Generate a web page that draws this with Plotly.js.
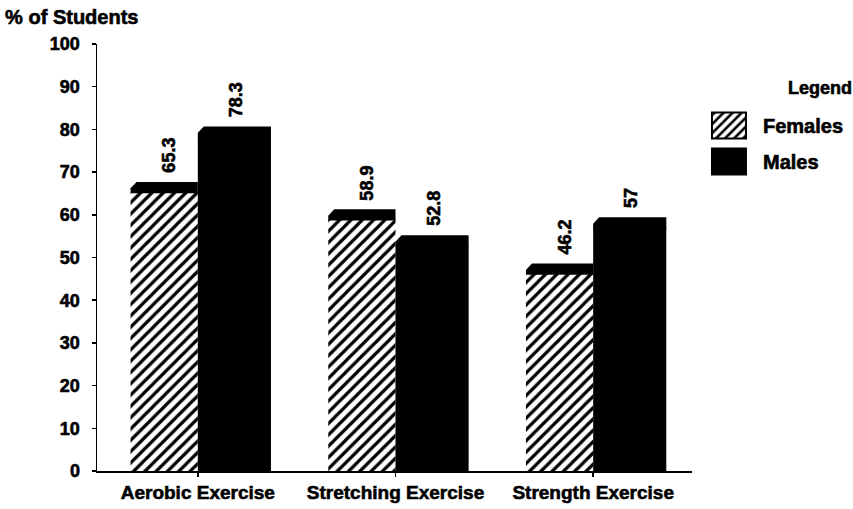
<!DOCTYPE html>
<html>
<head>
<meta charset="utf-8">
<script src="https://cdn.plot.ly/plotly-3.0.1.min.js"></script>
<style>
  body { margin: 0; background: #fff; }
  #chart { width: 853px; height: 509px; }
  /* heavy, slightly spread lettering */
  #chart svg text { stroke: #000; stroke-width: 0.6px; }
</style>
</head>
<body>
<div id="chart"></div>
<script>
// Share of students doing each type of exercise, by sex
const categories = ['Aerobic Exercise', 'Stretching Exercise', 'Strength Exercise'];
const females = [65.3, 58.9, 46.2];
const males = [78.3, 52.8, 57];
const yTicks = [0, 10, 20, 30, 40, 50, 60, 70, 80, 90, 100];
const seriesNames = ['Females', 'Males'];

const FONT = 'Liberation Sans, Arial, Helvetica, sans-serif';
const femaleW = 0.34;   // bar widths in category units
const maleW = 0.37;
const capH = 2.4;       // height of the raised top edge, in % units
const capOverlap = 0.25;
const bevelX = 0.03;
const bevelY = 1.5;

const traces = [
  {
    type: 'bar', name: seriesNames[0], legendgroup: 'f',
    x: categories, y: females, offset: -femaleW, width: femaleW,
    marker: {
      color: 'white',
      line: { width: 0 },
      pattern: { shape: '/', fgcolor: 'black', bgcolor: 'white', size: 8, solidity: 0.4 }
    },
    hoverinfo: 'x+y'
  },
  {
    type: 'bar', name: seriesNames[1], legendgroup: 'm',
    x: categories, y: males, offset: 0, width: maleW,
    marker: { color: 'black', line: { width: 0 } },
    hoverinfo: 'x+y'
  }
];

// Raised top edge drawn on each bar, with a bevelled left corner
function capPath(x0, x1, v) {
  const y0 = v - capOverlap, y1 = v + capH;
  return 'M' + x0 + ',' + y0 + ' L' + x0 + ',' + (y1 - bevelY) +
         ' L' + (x0 + bevelX) + ',' + y1 + ' L' + x1 + ',' + y1 +
         ' L' + x1 + ',' + y0 + ' Z';
}

const labelFont = { family: FONT, size: 18, weight: 'bold', color: 'black' };

const shapes = [];
const annotations = [];
categories.forEach((c, i) => {
  [[females[i], i - femaleW, i, 5], [males[i], i, i + maleW, 2]].forEach(([v, x0, x1, xs]) => {
    shapes.push({
      type: 'path', xref: 'x', yref: 'y', path: capPath(x0, x1, v),
      fillcolor: 'black', line: { width: 0 }, layer: 'above'
    });
    annotations.push({
      xref: 'x', yref: 'y', x: (x0 + x1) / 2, y: v + capH,
      text: String(v), textangle: -90, showarrow: false,
      xanchor: 'center', yanchor: 'bottom', yshift: 7, xshift: xs,
      font: labelFont
    });
  });
});

annotations.push({
  xref: 'paper', yref: 'paper', x: 1.215, y: 0.897,
  text: 'Legend', showarrow: false, xanchor: 'center', yanchor: 'middle',
  font: labelFont
});

const layout = {
  width: 853, height: 509,
  margin: { l: 97, r: 161, t: 44, b: 38, autoexpand: false },
  paper_bgcolor: 'white', plot_bgcolor: 'white',
  font: labelFont,
  title: {
    text: '% of Students', xref: 'container', yref: 'container',
    x: 0.006, xanchor: 'left', y: 0.966, yanchor: 'middle',
    font: { family: FONT, size: 20, weight: 'bold', color: 'black' }
  },
  barmode: 'overlay',
  xaxis: {
    type: 'category', range: [-0.51, 2.5],
    showline: true, linecolor: 'black', linewidth: 1.5,
    ticks: 'outside', ticklen: 4, tickwidth: 1.5, tickcolor: 'black',
    tickfont: { family: FONT, size: 19, weight: 'bold', color: 'black' },
    showgrid: false, zeroline: false, fixedrange: true
  },
  yaxis: {
    range: [0, 100], tickmode: 'array', tickvals: yTicks, ticktext: yTicks.map(String),
    showline: true, linecolor: 'black', linewidth: 1.5,
    ticks: 'outside', ticklen: 4, tickwidth: 1.5, tickcolor: 'black',
    ticklabelstandoff: 8,
    tickfont: { family: FONT, size: 18, weight: 'bold', color: 'black' },
    showgrid: false, zeroline: false, fixedrange: true
  },
  showlegend: true,
  legend: {
    x: 1.005, xanchor: 'left', y: 0.855, yanchor: 'top',
    traceorder: 'grouped', tracegroupgap: 7, itemwidth: 58,
    font: { family: FONT, size: 20, weight: 'bold', color: 'black' },
    bgcolor: 'rgba(0,0,0,0)'
  },
  shapes: shapes,
  annotations: annotations
};

Plotly.newPlot('chart', traces, layout, { displayModeBar: false, staticPlot: true }).then(gd => {
  // larger legend swatches with an outline
  gd.querySelectorAll('.legend .legendpoints path').forEach(p => {
    p.setAttribute('d', 'M17,13H-17V-13H17Z');
    p.style.stroke = 'black';
    p.style.strokeWidth = '2px';
  });
});
</script>
</body>
</html>
